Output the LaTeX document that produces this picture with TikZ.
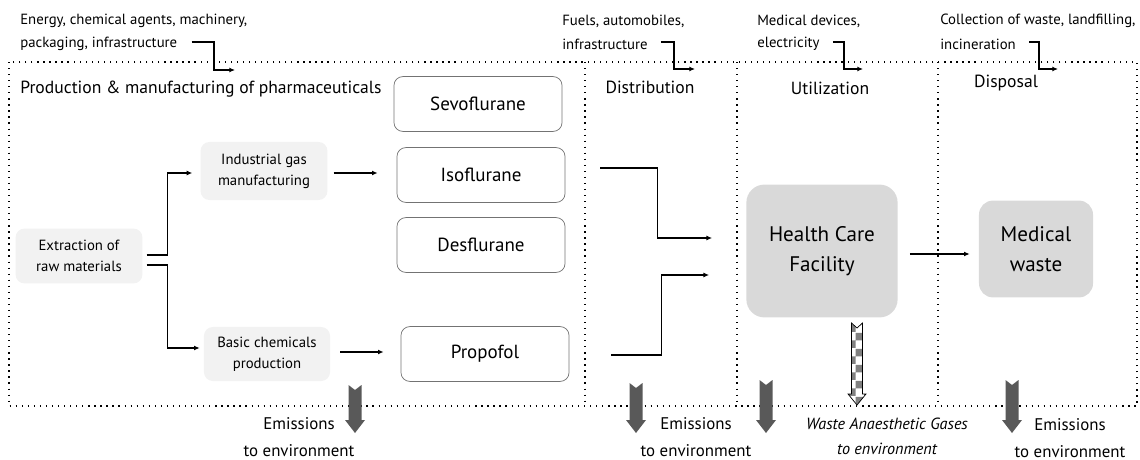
\documentclass[tikz,border=0pt]{standalone}
\usepackage{fontspec}
\setmainfont{PT Sans}
\usepackage{tikz}
\usetikzlibrary{calc,positioning,patterns,arrows.meta}

\begin{document}
\begin{tikzpicture}[x=0.025cm,y=-0.025cm,
    note/.style={anchor=west,inner sep=0pt,font=\fontsize{10.5}{13}\selectfont},
    stage/.style={inner sep=0pt,font=\fontsize{12.5}{15}\selectfont},
    pale/.style={fill=black!5,rounded corners=0.22cm,align=center,
      font=\fontsize{10.5}{15}\selectfont},
    drug/.style={draw=black!55,line width=0.5pt,rounded corners=0.22cm,
      minimum width=4.2cm,minimum height=1.37cm,font=\fontsize{13.5}{16}\selectfont},
    big/.style={fill=black!15,align=center,font=\fontsize{15}{21}\selectfont},
    flow/.style={line width=1.1pt,-{Latex[length=4pt,width=3.5pt]}},
    emit/.style={align=center,font=\fontsize{12}{19}\selectfont}]
  \useasboundingbox (0,0) rectangle (1140,460);

  % frame and stages
  \draw[line width=0.9pt,dash pattern=on 0.9pt off 3.4pt] (9,62) rectangle (1137,406);
  \foreach \x in {585,737,938}
    \draw[line width=0.9pt,dash pattern=on 0.9pt off 3.4pt] (\x,62) -- (\x,406);

  \node[stage,anchor=west] (prod) at (20,89) {Production \& manufacturing of pharmaceuticals};
  \node[stage] (dist) at (650,87) {Distribution};
  \node[stage] (util) at (830,88) {Utilization};
  \node[stage] (disp) at (1006,83) {Disposal};

  % inputs on top
  \node[note] (enA) at (20,21) {Energy, chemical agents, machinery,};
  \node[note] (enB) at (20,44) {packaging, infrastructure};
  \node[note] (fuA) at (562,21) {Fuels, automobiles,};
  \node[note] (fuB) at (562,44) {infrastructure};
  \node[note] (mdA) at (757,21) {Medical devices,};
  \node[note] (mdB) at (757,44) {electricity};
  \node[note] (coA) at (940,21) {Collection of waste, landfilling,};
  \node[note] (coB) at (940,44) {incineration};
  \coordinate (enIn) at (235,70);
  \coordinate (fuIn) at (695,69);
  \coordinate (mdIn) at (863,69);
  \coordinate (coIn) at (1058,69);
  \draw[flow] ($(enB.east)+(14,-2)$) -| ($(enIn)+(-21,0)$) -- (enIn);
  \draw[flow] ($(fuB.east)+(13,-2)$) -| ($(fuIn)+(-21,0)$) -- (fuIn);
  \draw[flow] ($(mdB.east)+(13,-2)$) -| ($(mdIn)+(-19,0)$) -- (mdIn);
  \draw[flow] ($(coB.east)+(13,-2)$) -| ($(coIn)+(-19,0)$) -- (coIn);

  % production chain
  \node[pale,minimum width=3.17cm,minimum height=1.37cm] (extr) at (79,256) {Extraction of\\raw materials};
  \node[pale,minimum width=3.17cm,minimum height=1.45cm] (indgas) at (264,171) {Industrial gas\\manufacturing};
  \node[pale,minimum width=3.15cm,minimum height=1.35cm] (basic) at (267,354) {Basic chemicals\\production};
  \node[drug] (sevo) at (478,104) {Sevoflurane};
  \node[drug] (iso) at (481,175) {Isoflurane};
  \node[drug] (des) at (481,245) {Desflurane};
  \node[drug] (prop) at (485,354) {Propofol};

  \draw[flow] ($(extr.east)+(4,-1)$) -- ++(21,0) |- ($(indgas.west)+(-8,2)$);
  \draw[flow] ($(extr.east)+(4,9)$) -- ++(21,0) |- ($(basic.west)+(-4,-6)$);
  \draw[flow] ($(indgas.east)+(6,2)$) -- ($(iso.west)+(-19,-2)$);
  \draw[flow] ($(basic.east)+(10,-2)$) -- ($(prop.west)+(-17,-2)$);

  % use and disposal
  \node[big,rounded corners=0.45cm,minimum width=3.78cm,minimum height=3.32cm] (hcf) at (822,251) {Health Care\\Facility};
  \node[big,rounded corners=0.35cm,minimum width=2.85cm,minimum height=2.42cm] (medw) at (1036,249) {Medical\\waste};

  \draw[flow] ($(iso.east)+(35,-7)$) -- ++(57,0) |- ($(hcf.west)+(-34,-13)$);
  \draw[flow] ($(prop.east)+(42,1)$) -- ++(50,0) |- ($(hcf.west)+(-37,24)$);
  \draw[flow] ($(hcf.east)+(12,3)$) -- ($(medw.west)+(-9,5)$);

  % emissions
  \foreach \x/\t in {355/385,636/383,766/380,1012/380}
    \fill[black!65] ({\x-6.5},\t) -- (\x,\t+5) -- ({\x+6.5},\t) -- ({\x+6.5},420)
      -- ({\x+10},420) -- (\x,433) -- ({\x-10},420) -- ({\x-6.5},420) -- cycle;
  \fill[white] (851.5,323) -- (857,328) -- (862.5,323) -- (862.5,394) -- (866,394)
    -- (857,405) -- (848,394) -- (851.5,394) -- cycle;
  \fill[pattern=checkerboard,pattern color=black!50] (851.5,323) -- (857,328) -- (862.5,323)
    -- (862.5,394) -- (866,394) -- (857,405) -- (848,394) -- (851.5,394) -- cycle;
  \draw[line width=0.5pt] (851.5,323) -- (857,328) -- (862.5,323) -- (862.5,394) -- (866,394)
    -- (857,405) -- (848,394) -- (851.5,394) -- cycle;

  \node[emit] (em1) at (299,437) {Emissions\\to environment};
  \node[emit] (em2) at (696,437) {Emissions\\to environment};
  \node[emit,font=\fontsize{11.5}{18}\selectfont\itshape] (wag) at (887,436) {Waste Anaesthetic Gases\\to environment};
  \node[emit] (em4) at (1070,438) {Emissions\\to environment};
\end{tikzpicture}
\end{document}
